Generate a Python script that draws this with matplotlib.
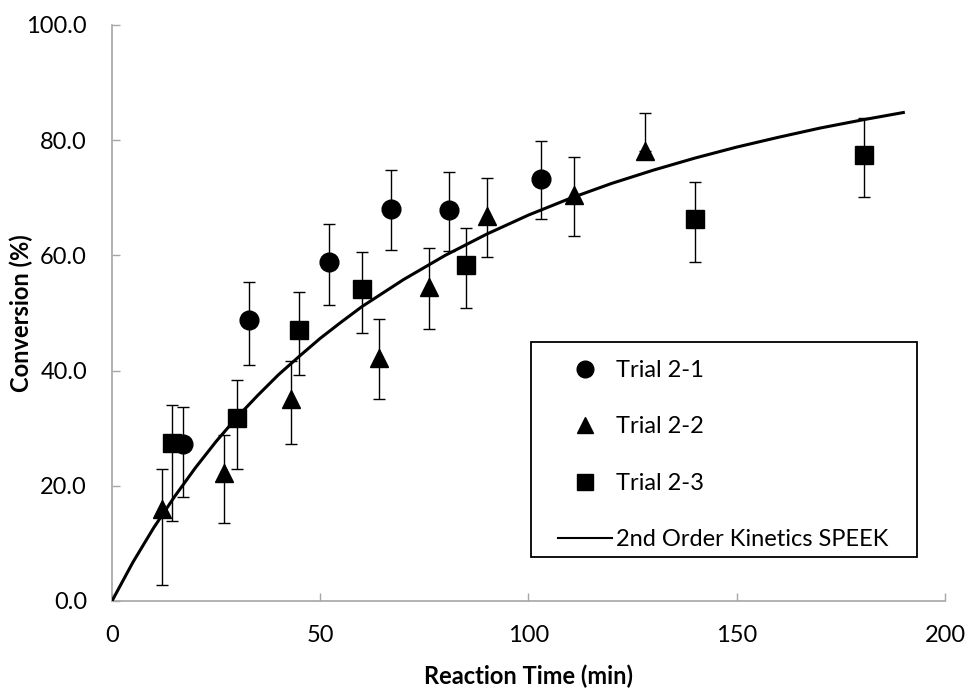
import numpy as np
import matplotlib
matplotlib.use("Agg")
import matplotlib.pyplot as plt
from matplotlib.lines import Line2D
from matplotlib.patches import Rectangle

plt.rcParams['font.family'] = ['Lato', 'DejaVu Sans']

# Trial 2-1
t1 = [17, 33, 52, 67, 81, 103]
x1 = [27.2, 48.7, 58.8, 68.1, 67.9, 73.3]
x1_lo = [9.1, 7.7, 7.4, 7.2, 7.1, 7.0]
x1_hi = [6.5, 6.7, 6.6, 6.7, 6.6, 6.6]

# Trial 2-2
t2 = [12, 27, 43, 64, 76, 90, 111, 128]
x2 = [16.0, 22.2, 35.0, 42.2, 54.5, 66.8, 70.4, 78.2]
x2_lo = [13.3, 8.7, 7.7, 7.2, 7.2, 7.1, 7.0, 0.0]
x2_hi = [6.9, 6.7, 6.7, 6.8, 6.7, 6.6, 6.7, 6.6]

# Trial 2-3
t3 = [14.5, 30, 45, 60, 85, 140, 180.5]
x3 = [27.4, 31.8, 47.0, 54.1, 58.3, 66.3, 77.4]
x3_lo = [13.6, 8.9, 7.8, 7.5, 7.4, 7.4, 7.2]
x3_hi = [6.6, 6.6, 6.6, 6.4, 6.4, 6.4, 6.4]

# 2nd order kinetics curve
t_fit = [0, 5, 10, 15, 20, 25, 30, 35, 40, 45, 50, 55, 60, 70, 80, 90,
         100, 110, 120, 130, 140, 150, 160, 170, 180, 190]
x_fit = [0.0, 6.7, 12.7, 18.1, 23.1, 27.7, 31.9, 35.7, 39.3, 42.5, 45.6,
         48.4, 51.1, 55.8, 60.0, 63.7, 67.0, 69.9, 72.5, 74.8, 76.9, 78.8,
         80.5, 82.1, 83.5, 84.8]

fig = plt.figure(figsize=(9.69, 6.88), dpi=100)
ax = fig.add_axes([0.1156, 0.1265, 0.8596, 0.8372])

ms = 13.5
for t, x, lo, hi, mk in [(t1, x1, x1_lo, x1_hi, 'o'),
                         (t2, x2, x2_lo, x2_hi, '^'),
                         (t3, x3, x3_lo, x3_hi, 's')]:
    ax.errorbar(t, x, yerr=[lo, hi], fmt='none', ecolor='black',
                elinewidth=1.0, capsize=4, capthick=1.0, zorder=2)
    ax.plot(t, x, linestyle='none', marker=mk, ms=ms, color='black', zorder=3)

ax.plot(t_fit, x_fit, color='black', lw=2.2, zorder=4)

ax.set_xlim(0, 200)
ax.set_ylim(0, 100)
ax.set_xticks([0, 50, 100, 150, 200])
ax.set_yticks([0, 20, 40, 60, 80, 100])
ax.set_yticklabels(['%.1f' % v for v in [0, 20, 40, 60, 80, 100]])

for side in ['top', 'right']:
    ax.spines[side].set_visible(False)
for side in ['left', 'bottom']:
    ax.spines[side].set_color('#a6a6a6')
    ax.spines[side].set_linewidth(1.2)

ax.tick_params(axis='both', direction='in', length=6, width=1.0,
               color='#a6a6a6', labelsize=17, labelcolor='black')
ax.tick_params(axis='y', pad=18)
ax.tick_params(axis='x', pad=17)

ax.set_xlabel('Reaction Time (min)', fontsize=17, fontweight='bold', labelpad=14)
ax.set_ylabel('Conversion (%)', fontsize=17, fontweight='bold')
ax.yaxis.set_label_coords(-0.095, 0.5)

# legend frame drawn as its own box, entries placed inside it
ax.add_patch(Rectangle((0.5027, 0.0764), 0.4634, 0.3736, transform=ax.transAxes,
                       facecolor='white', edgecolor='black', lw=1.3, zorder=5))

handles = [
    Line2D([], [], linestyle='none', marker='o', ms=12, color='black'),
    Line2D([], [], linestyle='none', marker='^', ms=12, color='black'),
    Line2D([], [], linestyle='none', marker='s', ms=12, color='black'),
    Line2D([], [], color='black', lw=1.5),
]
labels = ['Trial 2-1', 'Trial 2-2', 'Trial 2-3', '2nd Order Kinetics SPEEK']
leg = ax.legend(handles, labels, loc='upper left',
                bbox_to_anchor=(0.5354, 0.4184), borderaxespad=0, borderpad=0,
                fontsize=17, frameon=False, labelspacing=1.50,
                handlelength=2.3, handletextpad=0.15)
leg.set_zorder(6)

fig.savefig('out.png', dpi=100)
